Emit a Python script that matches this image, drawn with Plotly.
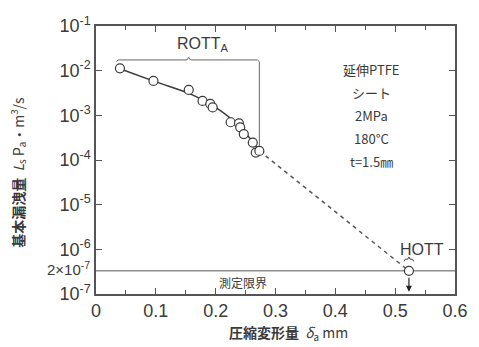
import numpy as np
import plotly.graph_objects as go

# measured points (ROTT_A region)
delta_a = [0.040, 0.096, 0.155, 0.178, 0.191, 0.195, 0.225, 0.239, 0.241, 0.247, 0.262, 0.267, 0.273]
leak = [1.13e-2, 5.9e-3, 3.7e-3, 2.1e-3, 1.8e-3, 1.5e-3, 7.0e-4, 6.6e-4, 5.4e-4, 3.8e-4, 2.45e-4, 1.47e-4, 1.6e-4]

# HOTT point
hott_x = [0.523]
hott_y = [3.3e-7]

# fitted curve (solid) and extrapolation (dashed)
fit_x = [0.040, 0.100, 0.160, 0.200, 0.240, 0.273]
fit_y = [1.10e-2, 5.6e-3, 2.9e-3, 1.5e-3, 5.6e-4, 1.6e-4]
ext_x = [0.273, 0.523]
ext_y = [1.6e-4, 3.3e-7]

# measurement limit
limit_y = 3.3e-7

x_ticks = [0, 0.1, 0.2, 0.3, 0.4, 0.5, 0.6]
x_ticktext = ["0", "0.1", "0.2", "0.3", "0.4", "0.5", "0.6"]
y_ticks = [1e-7, 1e-6, 1e-5, 1e-4, 1e-3, 1e-2, 1e-1]
y_ticktext = ["10<sup>-7</sup>", "10<sup>-6</sup>", "10<sup>-5</sup>", "10<sup>-4</sup>",
              "10<sup>-3</sup>", "10<sup>-2</sup>", "10<sup>-1</sup>"]

condition_lines = ["延伸PTFE", "シート", "2MPa", "180°C", "t=1.5㎜"]

# bracket for ROTT_A
rott_x = [0.034, 0.037, 0.152, 0.155, 0.158, 0.270, 0.273, 0.273]
rott_y = [10**-1.80, 10**-1.76, 10**-1.76, 10**-1.70, 10**-1.76, 10**-1.76, 10**-1.80, 10**-3.75]
# bracket for HOTT
hott_bx = [0.515, 0.517, 0.521, 0.523, 0.525, 0.529, 0.531]
hott_by = [10**-6.27, 10**-6.22, 10**-6.22, 10**-6.17, 10**-6.22, 10**-6.22, 10**-6.27]

ink = "#3a3a3a"
fig = go.Figure()

fig.add_trace(go.Scatter(x=[0, 0.6], y=[limit_y, limit_y], mode="lines",
                         line=dict(color="#555", width=1), hoverinfo="skip"))
fig.add_trace(go.Scatter(x=rott_x, y=rott_y, mode="lines",
                         line=dict(color="#666", width=1)))
fig.add_trace(go.Scatter(x=hott_bx, y=hott_by, mode="lines",
                         line=dict(color="#444", width=1)))
fig.add_trace(go.Scatter(x=fit_x, y=fit_y, mode="lines", line_shape="spline",
                         line=dict(color=ink, width=1.5)))
fig.add_trace(go.Scatter(x=ext_x, y=ext_y, mode="lines",
                         line=dict(color="#555", width=1.5, dash="4px,4px")))
fig.add_trace(go.Scatter(x=delta_a, y=leak, mode="markers",
                         marker=dict(symbol="circle", size=9, color="white",
                                     line=dict(color=ink, width=1.2))))
fig.add_trace(go.Scatter(x=hott_x, y=hott_y, mode="markers",
                         marker=dict(symbol="circle", size=9, color="white",
                                     line=dict(color=ink, width=1.2))))

ann = []
# arrow down from HOTT point
ann.append(dict(x=hott_x[0], y=-6.95, ax=hott_x[0], ay=np.log10(hott_y[0]) - 0.12,
                xref="x", yref="y", axref="x", ayref="y", showarrow=True,
                arrowhead=2, arrowsize=1, arrowwidth=1.2, arrowcolor="#222", text=""))
ann.append(dict(x=0.178, y=-1.42, xref="x", yref="y", text="ROTT<sub>A</sub>",
                showarrow=False, font=dict(size=16, color=ink, family="Liberation Sans")))
ann.append(dict(x=0.545, y=-6.0, xref="x", yref="y", text="HOTT",
                showarrow=False, font=dict(size=16, color=ink, family="Liberation Sans")))
ann.append(dict(x=0.245, y=-6.74, xref="x", yref="y", text="測定限界",
                showarrow=False, font=dict(size=12, color=ink, family="Noto Sans CJK JP")))
# condition text block, one line each (23 px apart)
for i, s in enumerate(condition_lines):
    ann.append(dict(x=0.461, y=(294 - (69 + 23 * i)) / 268, xref="x", yref="paper",
                    xanchor="center", yanchor="middle",
                    text=s, showarrow=False,
                    font=dict(size=13, color=ink, family="Noto Sans CJK JP")))
# y title
ann.append(dict(x=-0.218, y=0.455, xref="paper", yref="paper", textangle=-90,
                xanchor="center", yanchor="middle",
                text="<b>基本漏洩量</b>  <i>L</i><sub>s</sub> P<sub>a</sub>・m<sup>3</sup>/s",
                showarrow=False, font=dict(size=14, color=ink, family="Noto Sans CJK JP")))
# x title
ann.append(dict(x=0.535, y=-0.146, xref="paper", yref="paper", yanchor="middle",
                text="<b>圧縮変形量</b>  <i>δ</i><sub>a</sub> mm",
                showarrow=False, font=dict(size=14, color=ink, family="Noto Sans CJK JP")))
# 2x10^-7 label
ann.append(dict(x=-0.012, y=np.log10(limit_y) + 0.06, xref="paper", yref="y", xanchor="right",
                text="2×10<sup>-7</sup>", showarrow=False,
                font=dict(size=15, color=ink, family="Liberation Sans")))

fig.update_layout(
    width=479, height=347, margin=dict(l=96, r=11, t=26, b=53),
    paper_bgcolor="white", plot_bgcolor="white", showlegend=False,
    annotations=ann,
    font=dict(family="Liberation Sans", color=ink),
)
fig.update_xaxes(range=[0, 0.6], tickvals=x_ticks, ticktext=x_ticktext,
                 ticks="inside", ticklen=6, tickwidth=1, tickcolor="#555",
                 showline=True, linecolor="#555", linewidth=1.5, mirror="ticks",
                 showgrid=False, zeroline=False, tickfont=dict(size=18, color=ink),
                 minor=dict(tickvals=[0.05, 0.15, 0.25, 0.35, 0.45, 0.55], ticks="inside",
                            ticklen=4, tickcolor="#555", showgrid=False))
fig.update_yaxes(type="log", range=[-7, -1], tickvals=y_ticks, ticktext=y_ticktext,
                 ticks="inside", ticklen=6, tickwidth=1, tickcolor="#555",
                 showline=True, linecolor="#555", linewidth=1.5, mirror="ticks",
                 showgrid=False, zeroline=False, tickfont=dict(size=18, color=ink))

fig.write_html("out.html")
